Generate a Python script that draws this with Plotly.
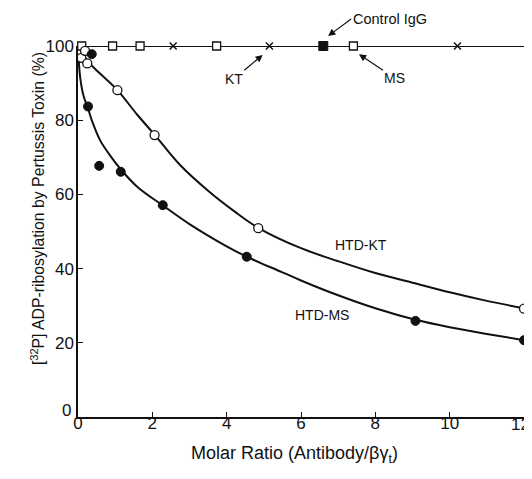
import plotly.graph_objects as go

# ---- data ----
# HTD-KT (open circles)
kt_x = [0.09, 0.19, 0.25, 1.06, 2.06, 4.85, 12.0]
kt_y = [96.8, 98.7, 95.3, 88.1, 76.0, 50.9, 29.2]
# HTD-MS (filled circles)
ms_x = [0.37, 0.27, 0.57, 1.15, 2.28, 4.54, 9.08, 12.0]
ms_y = [97.8, 83.7, 67.7, 66.1, 57.1, 43.2, 25.9, 20.7]
# fitted curves
kt_fit_x = [0.12, 0.25, 0.6, 1.06, 1.6, 2.07, 2.74, 3.5, 4.2, 4.85, 6.0, 7.0, 8.0, 9.0, 10.0, 11.0, 12.0]
kt_fit_y = [98.0, 96.0, 92.5, 88.1, 81.4, 76.0, 68.0, 61.0, 55.5, 51.0, 45.5, 42.0, 38.8, 36.2, 33.6, 31.3, 29.3]
ms_fit_x = [0.01, 0.06, 0.15, 0.26, 0.37, 0.6, 0.9, 1.13, 1.6, 2.3, 3.0, 4.0, 4.54, 5.5, 6.0, 7.0, 8.0, 9.08, 10.0, 11.0, 12.0]
ms_fit_y = [97.8, 91.4, 86.5, 83.5, 80.0, 74.5, 70.0, 67.0, 62.0, 56.9, 52.0, 46.0, 43.2, 39.0, 36.8, 32.8, 29.3, 26.2, 24.2, 22.4, 20.7]
# control antibodies on the 100 % line
line100_x = [0.0, 12.0]
line100_y = [100, 100]
ms_ctrl_x = [0.1, 0.93, 1.67, 3.73, 7.41]
ms_ctrl_y = [100, 100, 100, 100, 100]
kt_ctrl_x = [2.56, 5.15, 10.21]
kt_ctrl_y = [100, 100, 100]
igg_x = [6.6]
igg_y = [100]

x_ticks = [0, 2, 4, 6, 8, 10, 12]
x_ticktext = ["0", "2", "4", "6", "8", "10", ""]     # "12" sits against the right edge, drawn below
y_ticks = [0, 20, 40, 60, 80, 100]
y_ticktext = ["", "20", "40", "60", "80", "100"]    # the y "0" sits slightly above the axis, drawn below

FONT = "Liberation Sans, Arial, Helvetica, sans-serif"
INK = "#111111"
TICK_SIZE = 17

fig = go.Figure()
fig.add_trace(go.Scatter(x=line100_x, y=line100_y, mode="lines",
                         line=dict(color=INK, width=2), showlegend=False))
fig.add_trace(go.Scatter(x=kt_fit_x, y=kt_fit_y, mode="lines", line_shape="spline",
                         line=dict(color=INK, width=2), showlegend=False))
fig.add_trace(go.Scatter(x=ms_fit_x, y=ms_fit_y, mode="lines", line_shape="spline",
                         line=dict(color=INK, width=2), showlegend=False))
fig.add_trace(go.Scatter(x=ms_ctrl_x, y=ms_ctrl_y, mode="markers", cliponaxis=False,
                         marker=dict(symbol="square", size=8, color="white",
                                     line=dict(color=INK, width=1.3)), showlegend=False))
fig.add_trace(go.Scatter(x=kt_ctrl_x, y=kt_ctrl_y, mode="markers", cliponaxis=False,
                         marker=dict(symbol="x-thin", size=7,
                                     line=dict(color=INK, width=1.5)), showlegend=False))
fig.add_trace(go.Scatter(x=igg_x, y=igg_y, mode="markers", cliponaxis=False,
                         marker=dict(symbol="square", size=9, color=INK,
                                     line=dict(color=INK, width=1)), showlegend=False))
fig.add_trace(go.Scatter(x=kt_x, y=kt_y, mode="markers", cliponaxis=False,
                         marker=dict(symbol="circle", size=9, color="white",
                                     line=dict(color=INK, width=1.3)), showlegend=False))
fig.add_trace(go.Scatter(x=ms_x, y=ms_y, mode="markers", cliponaxis=False,
                         marker=dict(symbol="circle", size=9, color=INK,
                                     line=dict(color=INK, width=1)), showlegend=False))

ann_font = dict(family=FONT, size=14, color=INK)
tick_font = dict(family=FONT, size=TICK_SIZE, color=INK)
arrow = dict(showarrow=True, arrowhead=2, arrowsize=1.2, arrowwidth=1.2, arrowcolor=INK)
annotations = [
    dict(x=7.61, y=46.4, xref="x", yref="y", text="HTD-KT", showarrow=False, font=ann_font),
    dict(x=6.56, y=27.5, xref="x", yref="y", text="HTD-MS", showarrow=False, font=ann_font),
    # labels with arrows (x, y = arrow head; ax, ay = label offset in px)
    dict(x=4.97, y=97.6, xref="x", yref="y", ax=-29, ay=24, text="KT", font=ann_font, **arrow),
    dict(x=7.56, y=97.8, xref="x", yref="y", ax=36, ay=24, text="MS", font=ann_font, **arrow),
    dict(x=6.73, y=1.027, xref="x", yref="paper", ax=23, ay=-17, text="Control IgG",
         xanchor="left", yanchor="middle", font=dict(family=FONT, size=14.5, color=INK), **arrow),
    # y-axis "0" label and x-axis "12" label
    dict(x=-0.012, y=0.017, xref="paper", yref="paper", text="0", showarrow=False,
         xanchor="right", yanchor="middle", font=tick_font),
    dict(x=1.018, y=-0.019, xref="paper", yref="paper", text="12", showarrow=False,
         xanchor="right", yanchor="middle", font=tick_font),
    # axis titles
    dict(x=0.4865, y=-0.1375, xref="paper", yref="paper",
         text="Molar Ratio (Antibody/βγ<sub>t</sub>)", showarrow=False,
         font=dict(family=FONT, size=18, color=INK)),
    dict(x=-0.1166, y=0.563, xref="paper", yref="paper", textangle=-90,
         text="[<sup>32</sup>P] ADP-ribosylation by Pertussis Toxin (%)", showarrow=False,
         font=dict(family=FONT, size=15.8, color=INK)),
]

# page body has an 8 px default margin, so the figure is sized to fit inside it
fig.update_layout(
    width=524, height=471,
    margin=dict(l=70, r=8, t=38, b=62, autoexpand=False),
    paper_bgcolor="white", plot_bgcolor="white",
    font=dict(family=FONT, color=INK),
    showlegend=False,
    annotations=annotations,
)
fig.update_xaxes(range=[0, 12], tickvals=x_ticks, ticktext=x_ticktext,
                 showgrid=False, zeroline=False, showline=True, linecolor=INK, linewidth=1.5,
                 ticks="inside", ticklen=5, tickwidth=1.2, tickcolor=INK,
                 ticklabelstandoff=-10, automargin=False,
                 tickfont=tick_font)
fig.update_yaxes(range=[0, 100], tickvals=y_ticks, ticktext=y_ticktext,
                 showgrid=False, zeroline=False, showline=True, linecolor=INK, linewidth=1.5,
                 ticks="inside", ticklen=5, tickwidth=1.2, tickcolor=INK,
                 ticklabelstandoff=-1, automargin=False,
                 tickfont=tick_font)

fig.write_html("out.html")
